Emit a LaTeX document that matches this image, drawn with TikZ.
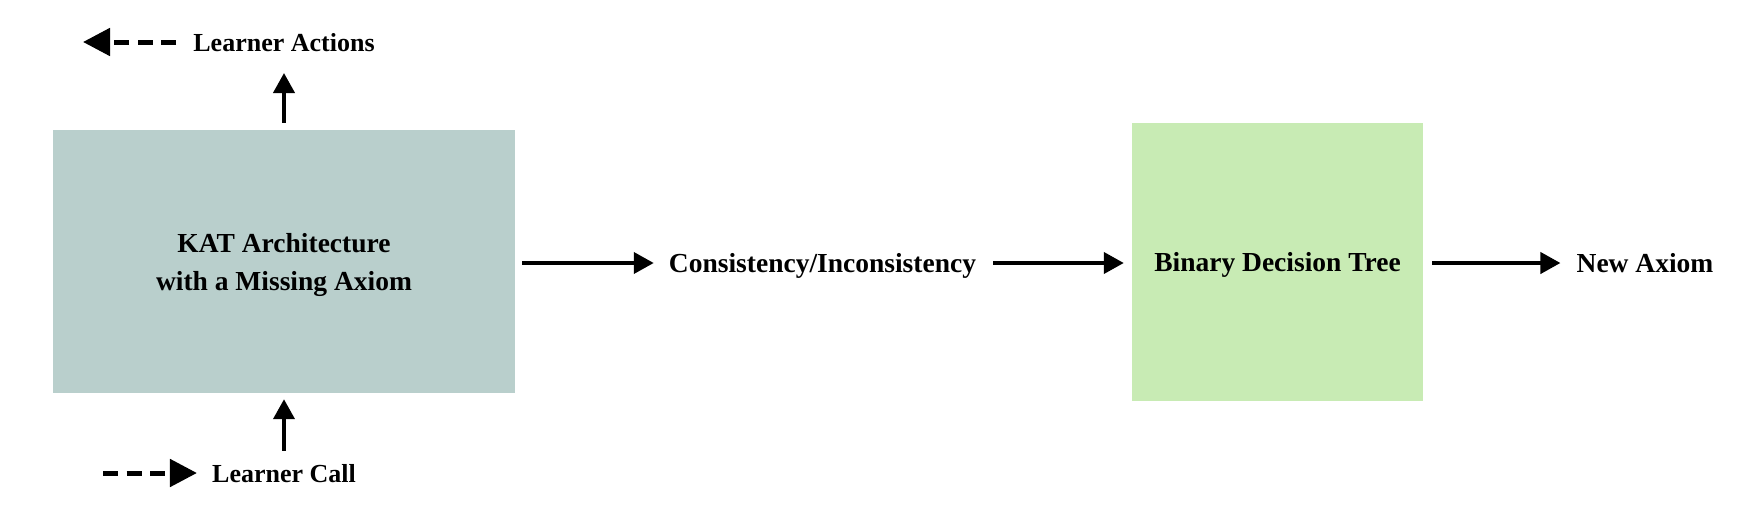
\documentclass[tikz,border=0pt]{standalone}
\usepackage{fontspec}
\setmainfont{Liberation Serif}
\usetikzlibrary{arrows.meta}
\definecolor{katfill}{RGB}{185,207,204}
\definecolor{bdtfill}{RGB}{200,235,180}
\begin{document}
\begin{tikzpicture}[x=1pt,y=-1pt,
  lbl/.style={inner sep=0pt, text depth=0pt, font=\bfseries\fontsize{27.5}{38}\selectfont},
  small/.style={inner sep=0pt, text depth=0pt, font=\bfseries\fontsize{26}{30}\selectfont},
  box/.style={draw=none, inner sep=0pt, align=center, font=\bfseries\fontsize{27.5}{38}\selectfont},
  arr/.style={line width=4pt, -{Triangle[length=20pt,width=21pt]}},
  darr/.style={line width=5pt, dash pattern=on 15pt off 8.5pt, -{Triangle[length=27pt,width=27pt]}}]
\useasboundingbox (0,0) rectangle (1738,514);
\node[box, fill=katfill, minimum width=462pt, minimum height=263pt, text depth=-8pt] (kat) at (284,261.5) {KAT Architecture\\with a Missing Axiom};
\node[box, fill=bdtfill, minimum width=291pt, minimum height=278pt, text depth=-4pt] (bdt) at (1277.5,261.5) {Binary Decision Tree};
\node[lbl] (cons) at (822.5,263) {Consistency/Inconsistency};
\node[lbl] (na) at (1645,263) {New Axiom};
\node[small] (la) at (284,42) {Learner Actions};
\node[small] (lc) at (284,473) {Learner Call};
\coordinate (upT) at (284,73);
\coordinate (laT) at (83,42);
\coordinate (lcS) at (103,473);
\draw[arr, shorten <=7pt] (kat.north) -- (upT);
\draw[arr, shorten <=13pt, shorten >=6pt] (lc.north) -- (kat.south);
\draw[darr, shorten <=17pt] (la.west) -- (laT);
\draw[darr, shorten >=15pt] (lcS) -- (lc.west);
\draw[arr, shorten <=7pt, shorten >=15pt] (kat.east |- cons.west) -- (cons.west);
\draw[arr, shorten <=17pt, shorten >=8pt] (cons.east) -- (bdt.west |- cons.east);
\draw[arr, shorten <=9pt, shorten >=16pt] (bdt.east |- na.west) -- (na.west);
\end{tikzpicture}
\end{document}
